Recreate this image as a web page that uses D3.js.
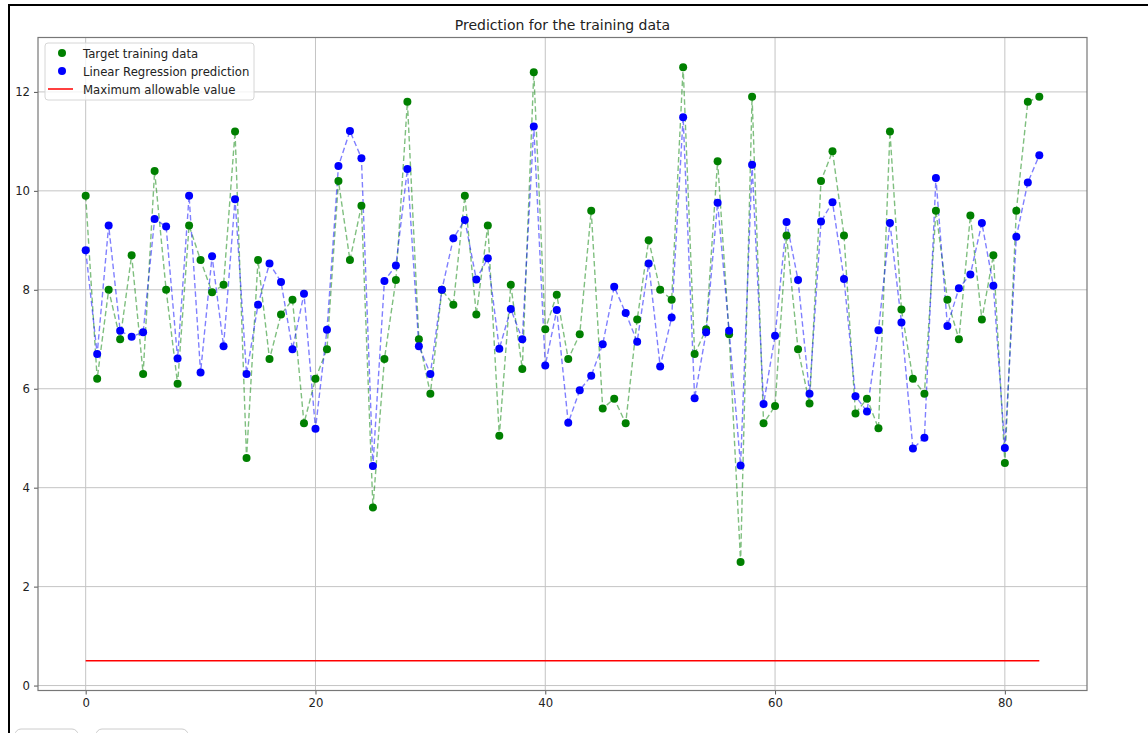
<!DOCTYPE html>
<html>
<head>
<meta charset="utf-8">
<script src="https://cdn.jsdelivr.net/npm/d3@7"></script>
<style>
  body { margin: 0; background: #fff; }
  text { font-family: "DejaVu Sans", sans-serif; fill: #222; }
</style>
</head>
<body>
<div id="content"></div>
<script>
// data
var target = [9.9, 6.2, 8.0, 7.0, 8.7, 6.3, 10.4, 8.0, 6.1, 9.3,
    8.6, 7.95, 8.1, 11.2, 4.6, 8.6, 6.6, 7.5, 7.8, 5.3,
    6.2, 6.8, 10.2, 8.6, 9.7, 3.6, 6.6, 8.2, 11.8, 7.0,
    5.9, 8.0, 7.7, 9.9, 7.5, 9.3, 5.05, 8.1, 6.4, 12.4,
    7.2, 7.9, 6.6, 7.1, 9.6, 5.6, 5.8, 5.3, 7.4, 9.0,
    8.0, 7.8, 12.5, 6.7, 7.2, 10.6, 7.1, 2.5, 11.9, 5.3,
    5.65, 9.1, 6.8, 5.7, 10.2, 10.8, 9.1, 5.5, 5.8, 5.2,
    11.2, 7.6, 6.2, 5.9, 9.6, 7.8, 7.0, 9.5, 7.4, 8.7,
    4.5, 9.6, 11.8, 11.9]
var predicted = [8.8, 6.7, 9.3, 7.17, 7.05, 7.14, 9.43, 9.28, 6.61, 9.9,
    6.33, 8.68, 6.86, 9.83, 6.3, 7.7, 8.53, 8.16, 6.8, 7.92,
    5.19, 7.19, 10.5, 11.21, 10.66, 4.44, 8.18, 8.49, 10.44, 6.86,
    6.3, 8.0, 9.04, 9.41, 8.21, 8.64, 6.81, 7.61, 7.0, 11.3,
    6.47, 7.59, 5.31, 5.97, 6.26, 6.9, 8.06, 7.53, 6.95, 8.53,
    6.45, 7.44, 11.49, 5.81, 7.14, 9.76, 7.17, 4.45, 10.53, 5.69,
    7.07, 9.37, 8.2, 5.9, 9.38, 9.77, 8.22, 5.85, 5.54, 7.18,
    9.35, 7.34, 4.79, 5.01, 10.26, 7.27, 8.03, 8.31, 9.35, 8.08,
    4.8, 9.07, 10.17, 10.72]
var maxAllowed = 0.5
var xTicks = [0, 20, 40, 60, 80]
var yTicks = [0, 2, 4, 6, 8, 10, 12]
var legendLabels = ['Target training data', 'Linear Regression prediction', 'Maximum allowable value']

var width = 1148, height = 733
// plot box (avoid the name "top", it is window.top)
var plotL = 38, plotR = 1087, plotT = 37.5, plotB = 690.5

var svg = d3.select('#content')
    .append('svg')
    .attr('width', width)
    .attr('height', height)

svg.append('rect').attr('width', width).attr('height', height).attr('fill', '#fff')

// notebook cell border + buttons peeking at the bottom
svg.append('path')
    .attr('d', 'M9,733V5H1148')
    .attr('fill', 'none')
    .attr('stroke', '#000')
    .attr('stroke-width', 2)
svg.append('rect').attr('x', 15).attr('y', 729).attr('width', 63).attr('height', 20).attr('rx', 6)
    .attr('fill', 'none').attr('stroke', '#ccc')
svg.append('rect').attr('x', 96).attr('y', 729).attr('width', 92).attr('height', 20).attr('rx', 6)
    .attr('fill', 'none').attr('stroke', '#ccc')

var x = d3.scaleLinear().domain([-4.15, 87.15]).range([plotL, plotR])
var y = d3.scaleLinear().domain([-0.1, 13.1]).range([plotB, plotT])

// grid
svg.append('g').selectAll('line')
    .data(xTicks)
    .join('line')
    .attr('x1', d => x(d)).attr('x2', d => x(d))
    .attr('y1', plotT).attr('y2', plotB)
    .attr('stroke', '#c4c4c4')
svg.append('g').selectAll('line')
    .data(yTicks)
    .join('line')
    .attr('x1', plotL).attr('x2', plotR)
    .attr('y1', d => y(d)).attr('y2', d => y(d))
    .attr('stroke', '#c4c4c4')

// axes
svg.append('g')
    .attr('transform', `translate(0,${plotB})`)
    .call(d3.axisBottom(x).tickValues(xTicks).tickSize(4).tickPadding(4).tickSizeOuter(0))
svg.append('g')
    .attr('transform', `translate(${plotL},0)`)
    .call(d3.axisLeft(y).tickValues(yTicks).tickSize(4).tickPadding(4).tickSizeOuter(0))
svg.selectAll('.domain').remove()
svg.selectAll('.tick line').attr('stroke', '#555')
svg.selectAll('.tick text').attr('font-size', 11.7).attr('font-family', '"DejaVu Sans", sans-serif').attr('fill', '#333')

// frame
svg.append('rect')
    .attr('x', plotL).attr('y', plotT)
    .attr('width', plotR - plotL).attr('height', plotB - plotT)
    .attr('fill', 'none')
    .attr('stroke', '#777')
    .attr('stroke-width', 1.2)

var line = d3.line().x((d, i) => x(i)).y(d => y(d))

svg.append('path')
    .datum(target)
    .attr('d', line)
    .attr('fill', 'none')
    .attr('stroke', 'green')
    .attr('stroke-opacity', 0.5)
    .attr('stroke-width', 1.4)
    .attr('stroke-dasharray', '5.5,3')

svg.append('path')
    .datum(predicted)
    .attr('d', line)
    .attr('fill', 'none')
    .attr('stroke', 'blue')
    .attr('stroke-opacity', 0.5)
    .attr('stroke-width', 1.4)
    .attr('stroke-dasharray', '5.5,3')

svg.append('g').selectAll('circle')
    .data(target)
    .join('circle')
    .attr('cx', (d, i) => x(i))
    .attr('cy', d => y(d))
    .attr('r', 4)
    .attr('fill', 'green')

svg.append('g').selectAll('circle')
    .data(predicted)
    .join('circle')
    .attr('cx', (d, i) => x(i))
    .attr('cy', d => y(d))
    .attr('r', 4)
    .attr('fill', 'blue')

// red limit line across all samples
svg.append('line')
    .attr('x1', x(0)).attr('x2', x(target.length - 1))
    .attr('y1', y(maxAllowed)).attr('y2', y(maxAllowed))
    .attr('stroke', 'red')
    .attr('stroke-width', 1.5)

// title
svg.append('text')
    .attr('x', (plotL + plotR) / 2)
    .attr('y', 30)
    .attr('text-anchor', 'middle')
    .attr('font-size', 14)
    .text('Prediction for the training data')

// legend
var legend = svg.append('g').attr('transform', 'translate(45,43)')
legend.append('rect')
    .attr('width', 209).attr('height', 57).attr('rx', 3)
    .attr('fill', '#fff').attr('fill-opacity', 0.8)
    .attr('stroke', '#d6d6d6')
var rows = legend.selectAll('g.row')
    .data(legendLabels)
    .join('g')
    .attr('class', 'row')
    .attr('transform', (d, i) => `translate(0,${10 + i * 18})`)
rows.filter((d, i) => i < 2).append('circle')
    .attr('cx', 17).attr('cy', 0).attr('r', 4)
    .attr('fill', (d, i) => i == 0 ? 'green' : 'blue')
rows.filter((d, i) => i == 2).append('line')
    .attr('x1', 3).attr('x2', 28).attr('y1', 0).attr('y2', 0)
    .attr('stroke', 'red').attr('stroke-width', 1.5)
rows.append('text')
    .attr('x', 38).attr('y', 4.5)
    .attr('font-size', 11.7)
    .text(d => d)
</script>
</body>
</html>
